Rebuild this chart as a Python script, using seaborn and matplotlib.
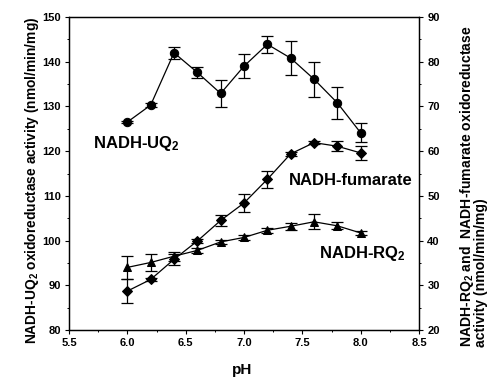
import matplotlib
matplotlib.use("Agg")
import matplotlib.pyplot as plt
import seaborn as sns
import pandas as pd
from matplotlib.ticker import MultipleLocator, FormatStrFormatter

# ---- data ----
ph = [6.0, 6.2, 6.4, 6.6, 6.8, 7.0, 7.2, 7.4, 7.6, 7.8, 8.0]
uq2_mean = [126.5, 130.3, 142.0, 137.6, 132.9, 139.0, 143.9, 140.8, 136.1, 130.8, 124.1]
uq2_err = [0.3, 0.4, 1.4, 1.3, 3.1, 2.7, 1.9, 3.8, 3.9, 3.6, 2.1]
fum_mean = [28.7, 31.3, 35.8, 39.9, 44.5, 48.4, 53.7, 59.4, 61.9, 61.1, 59.6]
fum_err = [2.6, 0.4, 1.3, 0.5, 1.3, 2.1, 1.9, 0.5, 0.4, 1.1, 1.5]
rq2_mean = [34.0, 35.1, 36.5, 37.8, 39.7, 40.7, 42.3, 43.2, 44.2, 43.3, 41.7]
rq2_err = [2.6, 1.9, 1.0, 0.6, 0.5, 0.6, 0.6, 0.8, 1.7, 0.8, 0.5]

sns.set_style("ticks")
plt.rcParams['font.family'] = ['Liberation Sans', 'DejaVu Sans']
plt.rcParams['font.weight'] = 'bold'
plt.rcParams['text.color'] = 'black'
plt.rcParams['axes.labelcolor'] = 'black'
plt.rcParams['xtick.color'] = 'black'
plt.rcParams['ytick.color'] = 'black'
plt.rcParams['mathtext.fontset'] = 'custom'
plt.rcParams['mathtext.rm'] = 'Liberation Sans:bold'
plt.rcParams['mathtext.bf'] = 'Liberation Sans:bold'
plt.rcParams['mathtext.it'] = 'Liberation Sans:bold'
plt.rcParams['mathtext.default'] = 'rm'

df_uq = pd.DataFrame({"pH": ph, "v": uq2_mean})
df_fum = pd.DataFrame({"pH": ph, "v": fum_mean})
df_rq = pd.DataFrame({"pH": ph, "v": rq2_mean})

fig = plt.figure(figsize=(4.91, 3.81), dpi=100)
ax = fig.add_axes([69/491, 1-330/381, 350/491, 313/381])
ax2 = ax.twinx()

lw = 0.9
sns.lineplot(data=df_uq, x="pH", y="v", ax=ax, color="black", marker="o",
             markersize=6, linewidth=lw, markeredgecolor="black")
ax.errorbar(ph, uq2_mean, yerr=uq2_err, fmt="none", ecolor="black",
            elinewidth=lw, capsize=4, capthick=lw)

sns.lineplot(data=df_fum, x="pH", y="v", ax=ax2, color="black", marker="D",
             markersize=4.8, linewidth=lw, markeredgecolor="black")
ax2.errorbar(ph, fum_mean, yerr=fum_err, fmt="none", ecolor="black",
             elinewidth=lw, capsize=4, capthick=lw)
sns.lineplot(data=df_rq, x="pH", y="v", ax=ax2, color="black", marker="^",
             markersize=6.3, linewidth=lw, markeredgecolor="black")
ax2.errorbar(ph, rq2_mean, yerr=rq2_err, fmt="none", ecolor="black",
             elinewidth=lw, capsize=4, capthick=lw)

ax.xaxis.set_major_locator(MultipleLocator(0.5))
ax.xaxis.set_minor_locator(MultipleLocator(0.25))
ax.xaxis.set_major_formatter(FormatStrFormatter("%.1f"))
ax.yaxis.set_major_locator(MultipleLocator(10))
ax.yaxis.set_minor_locator(MultipleLocator(5))
ax2.yaxis.set_major_locator(MultipleLocator(10))
ax2.yaxis.set_minor_locator(MultipleLocator(5))
ax.set_xlim(5.5, 8.5)
ax.set_ylim(80, 150)
ax2.set_ylim(20, 90)

for a in (ax, ax2):
    for s in a.spines.values():
        s.set_visible(True)
        s.set_linewidth(0.9)
        s.set_color("black")
    a.tick_params(which="major", length=3, width=0.8, labelsize=8, pad=3,
                  color="black", labelcolor="black")
    a.tick_params(which="minor", length=1.6, width=0.7, color="black")
    for lbl in a.get_yticklabels() + a.get_xticklabels():
        lbl.set_fontweight("bold")

ax.set_xlabel("pH", fontsize=11, fontweight="bold", va="center")
ax.xaxis.set_label_coords(0.496, -0.128)
ax.set_ylabel("NADH-UQ$_2$ oxidoreductase activity (nmol/min/mg)", fontsize=9.9,
              fontweight="bold", va="center", ha="center")
ax.yaxis.set_label_coords(-0.106, 0.479)
ax2.set_ylabel("NADH-RQ$_2$ and  NADH-fumarate oxidoreductase\nactivity (nmol/min/mg)",
               fontsize=10.1, fontweight="bold", va="center", ha="center",
               multialignment="left", rotation=90, linespacing=0.8)
ax2.yaxis.set_label_coords(1.154, 0.4585)

ax.text(5.706, 121.75, "NADH-UQ$_2$", fontsize=12, fontweight="bold", ha="left", va="center")
ax2.text(7.386, 53.5, "NADH-fumarate", fontsize=12, fontweight="bold", ha="left", va="center")
ax2.text(7.643, 37.15, "NADH-RQ$_2$", fontsize=12, fontweight="bold", ha="left", va="center")

fig.savefig("out.png", dpi=100)
